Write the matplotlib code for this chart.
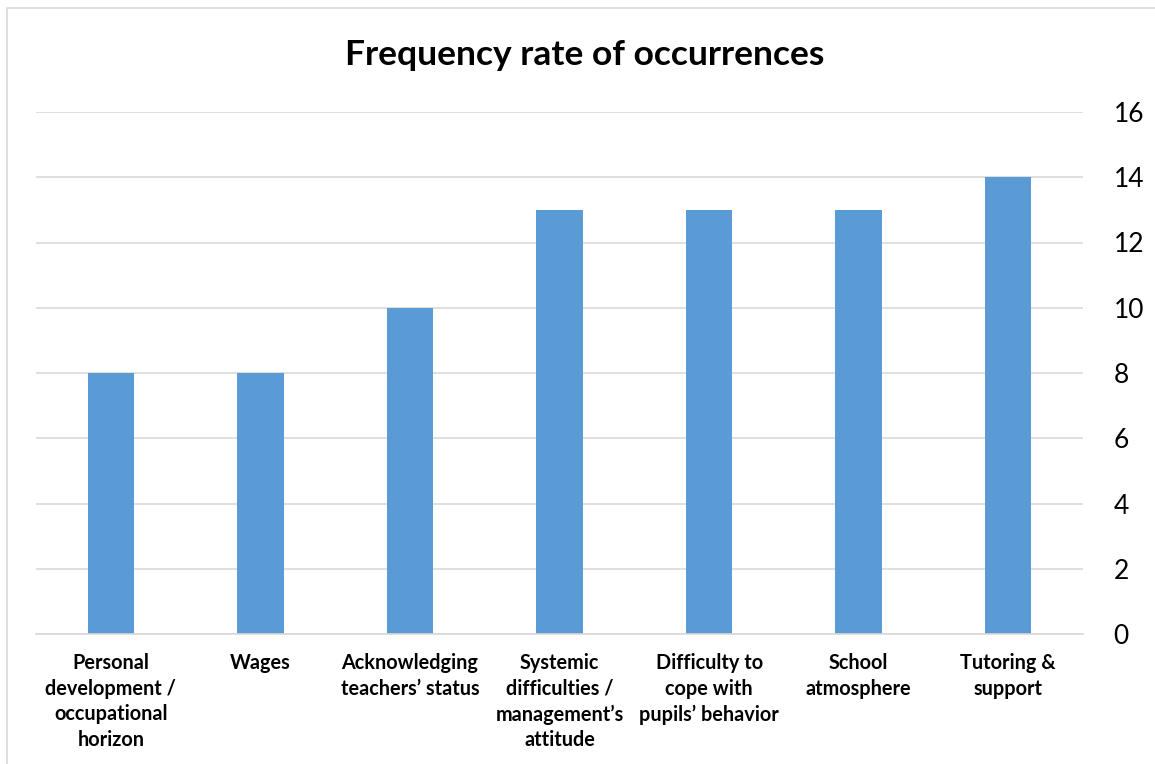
import matplotlib.pyplot as plt
from matplotlib.patches import Rectangle

# ── Data ──────────────────────────────────────────────────────────────────────
categories = [
    "Personal\ndevelopment /\noccupational\nhorizon",
    "Wages",
    "Acknowledging\nteachers\u2019 status",
    "Systemic\ndifficulties /\nmanagement\u2019s\nattitude",
    "Difficulty to\ncope with\npupils\u2019 behavior",
    "School\natmosphere",
    "Tutoring &\nsupport",
]
occurrences = [8, 8, 10, 13, 13, 13, 14]
y_ticks = [0, 2, 4, 6, 8, 10, 12, 14, 16]

# ── Style ─────────────────────────────────────────────────────────────────────
plt.rcParams["font.family"] = ["Lato", "DejaVu Sans"]
BAR_COLOR = "#5B9BD5"
GRID_COLOR = "#D9D9D9"

W, H = 1155, 764
fig = plt.figure(figsize=(W / 100, H / 100), dpi=100)

# chart border (runs off the right and bottom edges)
fig.patches.append(Rectangle((7 / W, -0.01), 1.2, 1 - 8 / H + 0.01,
                             transform=fig.transFigure, fill=False,
                             edgecolor=GRID_COLOR, linewidth=1.2))

left, right, top, bottom = 36, 1083, 112, 634
ax = fig.add_axes([left / W, 1 - bottom / H, (right - left) / W, (bottom - top) / H])

x = range(len(categories))
ax.bar(x, occurrences, width=0.31, color=BAR_COLOR, zorder=3)

ax.set_xlim(-0.5, len(categories) - 0.5)
ax.set_ylim(0, 16)
ax.set_yticks(y_ticks)
ax.yaxis.tick_right()
ax.tick_params(axis="y", length=0, pad=22, labelsize=19, labelcolor="#000000")
ax.grid(axis="y", color=GRID_COLOR, linewidth=1.2, zorder=0)

ax.set_xticks(list(x))
ax.set_xticklabels(categories, fontsize=14.3, fontweight="bold",
                   linespacing=1.34, va="top")
ax.tick_params(axis="x", length=0, pad=14)

for s in ["top", "left", "right"]:
    ax.spines[s].set_visible(False)
ax.spines["bottom"].set_color(GRID_COLOR)
ax.spines["bottom"].set_linewidth(1.2)
ax.spines["bottom"].set_zorder(4)

fig.text(585 / W, 1 - 55 / H, "Frequency rate of occurrences",
         ha="center", va="center", fontsize=25.5, fontweight="bold")

fig.savefig("out.png", dpi=100)
